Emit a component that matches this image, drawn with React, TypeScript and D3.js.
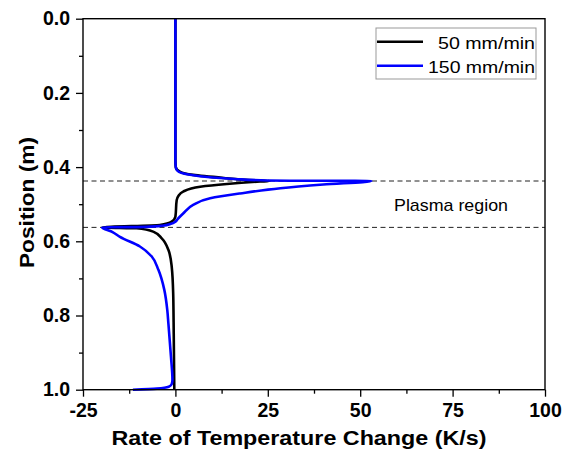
import React, { useEffect, useRef } from "react";
import * as d3 from "d3";

// 50 mm/min (black)
const pos50 = [0, 0.38, 0.4, 0.412, 0.421, 0.43, 0.435, 0.4375, 0.439, 0.4455, 0.453, 0.466, 0.478, 0.489, 0.534, 0.547, 0.556, 0.5625, 0.565, 0.574, 0.592, 0.623, 0.668, 0.74, 0.85, 1.0];
const rate50 = [0, 0, 0.1, 1.2, 4.8, 13.9, 20, 25.5, 22.9, 13.9, 6.7, 2.1, 0.8, 0.35, 0, -1, -4.2, -19.8, -10.5, -6, -3.7, -1.9, -1.0, -0.6, -0.45, -0.3];

// 150 mm/min (blue)
const pos150 = [0, 0.38, 0.4, 0.41, 0.42, 0.428, 0.432, 0.436, 0.4375, 0.447, 0.457, 0.471, 0.484, 0.502, 0.525, 0.54, 0.547, 0.553, 0.558, 0.561, 0.5625, 0.575, 0.588, 0.614, 0.641, 0.677, 0.731, 0.785, 0.821, 0.911, 0.974, 0.985, 0.992, 0.997, 1.0];
const rate150 = [0, 0, 0.1, 0.6, 3.5, 10, 16, 25, 53, 40, 28.4, 17.5, 9.4, 4.8, 2.1, 0.6, 0, -1.2, -3.5, -8, -19.8, -17, -15, -9.6, -6.4, -4.6, -3.0, -2.2, -1.9, -1.2, -0.8, -1.0, -1.8, -5, -11.5];

const xTicks = [-25, 0, 25, 50, 75, 100];
const yTicks = [0, 0.2, 0.4, 0.6, 0.8, 1.0];
const plasmaBounds = [0.4375, 0.5625];
const seriesNames = ["50 mm/min", "150 mm/min"];
const seriesColors = ["#000000", "#0000ff"];

const FONT = "'Liberation Sans', Arial, sans-serif";

export default function App() {
  const ref = useRef<SVGSVGElement>(null);

  useEffect(() => {
    const svg = d3.select(ref.current);
    svg.selectAll("*").remove();

    const left = 83, right = 545, top = 18.7, bottom = 389.7;

    const x = d3.scaleLinear().domain([-25, 100]).range([left, right]);
    const y = d3.scaleLinear().domain([0, 1]).range([top, bottom]);

    // dashed plasma lines
    svg.selectAll(".dash")
      .data(plasmaBounds)
      .enter()
      .append("line")
      .attr("x1", left)
      .attr("x2", right)
      .attr("y1", d => y(d))
      .attr("y2", d => y(d))
      .attr("stroke", "#222")
      .attr("stroke-width", 1)
      .attr("stroke-dasharray", "5,3.5");

    // curves
    const series = [
      pos50.map((p, i) => ({ p, r: rate50[i] })),
      pos150.map((p, i) => ({ p, r: rate150[i] })),
    ];
    const line = d3.line<{ p: number; r: number }>()
      .x(d => x(d.r))
      .y(d => y(d.p))
      .curve(d3.curveMonotoneY);

    series.forEach((s, i) => {
      svg.append("path")
        .attr("d", line(s))
        .attr("fill", "none")
        .attr("stroke", seriesColors[i])
        .attr("stroke-width", 2.6)
        .attr("stroke-linejoin", "round");
    });

    // axes
    const xAxis = svg.append("g").attr("transform", `translate(0,${bottom})`)
      .call(d3.axisBottom(x).tickValues(xTicks).tickSize(7).tickPadding(6).tickFormat(d => String(d)));
    svg.append("g").attr("transform", `translate(0,${bottom})`)
      .call(d3.axisBottom(x).tickValues(xTicks.slice(0, -1).map(v => v + 12.5)).tickSize(4).tickFormat(() => ""));
    const yAxis = svg.append("g").attr("transform", `translate(${left},0)`)
      .call(d3.axisLeft(y).tickValues(yTicks).tickSize(7).tickPadding(6).tickFormat(d => (+d).toFixed(1)));
    svg.append("g").attr("transform", `translate(${left},0)`)
      .call(d3.axisLeft(y).tickValues([0.1, 0.3, 0.5, 0.7, 0.9]).tickSize(4).tickFormat(() => ""));

    svg.selectAll(".domain").remove();
    svg.selectAll(".tick line").attr("stroke", "#000").attr("stroke-width", 1.3);
    [xAxis, yAxis].forEach(a => a.selectAll("text")
      .attr("font-family", FONT)
      .attr("font-size", 19.5)
      .attr("font-weight", "bold")
      .attr("fill", "#000"));

    // frame
    svg.append("rect")
      .attr("x", left).attr("y", top)
      .attr("width", right - left).attr("height", bottom - top)
      .attr("fill", "none").attr("stroke", "#000").attr("stroke-width", 1.4);

    // titles
    svg.append("text")
      .attr("x", 299).attr("y", 445)
      .attr("text-anchor", "middle")
      .attr("font-family", FONT).attr("font-size", 20).attr("font-weight", "bold")
      .attr("textLength", 375).attr("lengthAdjust", "spacingAndGlyphs")
      .text("Rate of Temperature Change (K/s)");

    svg.append("text")
      .attr("transform", "translate(34,202.5) rotate(-90)")
      .attr("text-anchor", "middle")
      .attr("font-family", FONT).attr("font-size", 21).attr("font-weight", "bold")
      .attr("textLength", 131).attr("lengthAdjust", "spacingAndGlyphs")
      .text("Position (m)");

    svg.append("text")
      .attr("x", 394).attr("y", 210.7)
      .attr("font-family", FONT).attr("font-size", 17)
      .attr("textLength", 114).attr("lengthAdjust", "spacingAndGlyphs")
      .text("Plasma region");

    // legend
    svg.append("rect")
      .attr("x", 376).attr("y", 28).attr("width", 160).attr("height", 51)
      .attr("fill", "#fff").attr("stroke", "#999").attr("stroke-width", 1);
    seriesNames.forEach((name, i) => {
      const ly = 41.7 + i * 24;
      svg.append("line")
        .attr("x1", 377).attr("x2", 423).attr("y1", ly).attr("y2", ly)
        .attr("stroke", seriesColors[i]).attr("stroke-width", 2.6);
      svg.append("text")
        .attr("x", 535).attr("y", ly + 6.8)
        .attr("text-anchor", "end")
        .attr("font-family", FONT).attr("font-size", 17)
        .attr("textLength", i === 0 ? 97 : 107).attr("lengthAdjust", "spacingAndGlyphs")
        .text(name);
    });
  }, []);

  return (
    <svg ref={ref} width={567} height={451}
      style={{ position: "absolute", left: 0, top: 0, background: "#fff" }} />
  );
}
